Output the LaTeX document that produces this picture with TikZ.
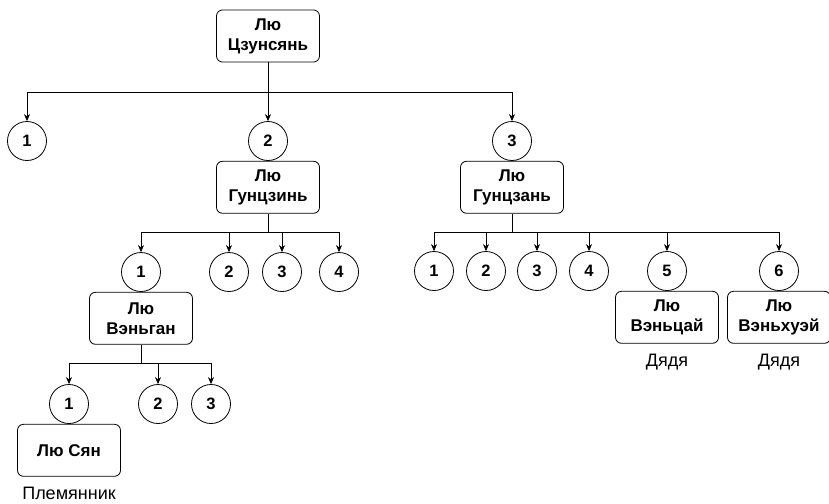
\documentclass[tikz,border=0pt]{standalone}
\usepackage{fontspec}
\setmainfont{Liberation Sans}
\usetikzlibrary{arrows.meta,positioning}

\begin{document}
\begin{tikzpicture}[
    x=1pt, y=-1pt,
    person/.style={draw, rounded corners=6pt, minimum width=103pt, minimum height=52pt,
                   align=center, line width=0.8pt, font=\fontsize{17}{20}\selectfont\bfseries},
    kid/.style={draw, circle, minimum size=39pt, inner sep=0pt, line width=0.8pt,
                font=\fontsize{16.5}{18}\selectfont\bfseries},
    role/.style={font=\fontsize{18}{20}\selectfont},
    arr/.style={-{Stealth[length=7pt,width=6pt]}, line width=0.7pt},
    stem/.style={line width=0.7pt}
]
\useasboundingbox (0,0) rectangle (829,503);

% generation 1
\node[person] (zun)  at (268, 36) {Лю\\Цзунсянь};
\node[kid]    (a1)   at ( 27,141) {1};
\node[kid]    (a2)   at (268,141) {2};
\node[kid]    (a3)   at (512,141) {3};
\node[person] (gzin) [below=0pt of a2] {Лю\\Гунцзинь};
\node[person] (gzan) [below=0pt of a3] {Лю\\Гунцзань};

% generation 2
\node[kid]    (b1)   at (141,272) {1};
\node[kid]    (b2)   at (229,272) {2};
\node[kid]    (b3)   at (282,272) {3};
\node[kid]    (b4)   at (339,272) {4};
\node[kid]    (c1)   at (434,271) {1};
\node[kid]    (c2)   at (486,271) {2};
\node[kid]    (c3)   at (537,271) {3};
\node[kid]    (c4)   at (589,271) {4};
\node[kid]    (c5)   at (667,271) {5};
\node[kid]    (c6)   at (779,271) {6};
\node[person] (vgan) [below=0pt of b1] {Лю\\Вэньган};
\node[person] (vcai) [below=0pt of c5] {Лю\\Вэньцай};
\node[person] (vhue) [below=0pt of c6] {Лю\\Вэньхуэй};
\node[role]   (u1)   at (667,362) {Дядя};
\node[role]   (u2)   at (779,362) {Дядя};

% generation 3
\node[kid]    (d1)   at ( 69,404) {1};
\node[kid]    (d2)   at (158,404) {2};
\node[kid]    (d3)   at (211,404) {3};
\node[person] (syan) [below=0pt of d1] {Лю Сян};
\node[role]   (nep)  at ( 69,493) {Племянник};

% buses
\coordinate (bus0) at (268, 92);
\coordinate (bus1) at (268,232);
\coordinate (bus2) at (512,232);
\coordinate (bus3) at (141,363);

\draw[stem] (zun.south)  -- (bus0);
\draw[stem] (gzin.south) -- (bus1);
\draw[stem] (gzan.south) -- (bus2);
\draw[stem] (vgan.south) -- (bus3);
\foreach \n in {a1,a2,a3} \draw[arr] (bus0) -| (\n.north);
\foreach \n in {b1,b2,b3,b4} \draw[arr] (bus1) -| (\n.north);
\foreach \n in {c1,c2,c3,c4,c5,c6} \draw[arr] (bus2) -| (\n.north);
\foreach \n in {d1,d2,d3} \draw[arr] (bus3) -| (\n.north);
\end{tikzpicture}
\end{document}
